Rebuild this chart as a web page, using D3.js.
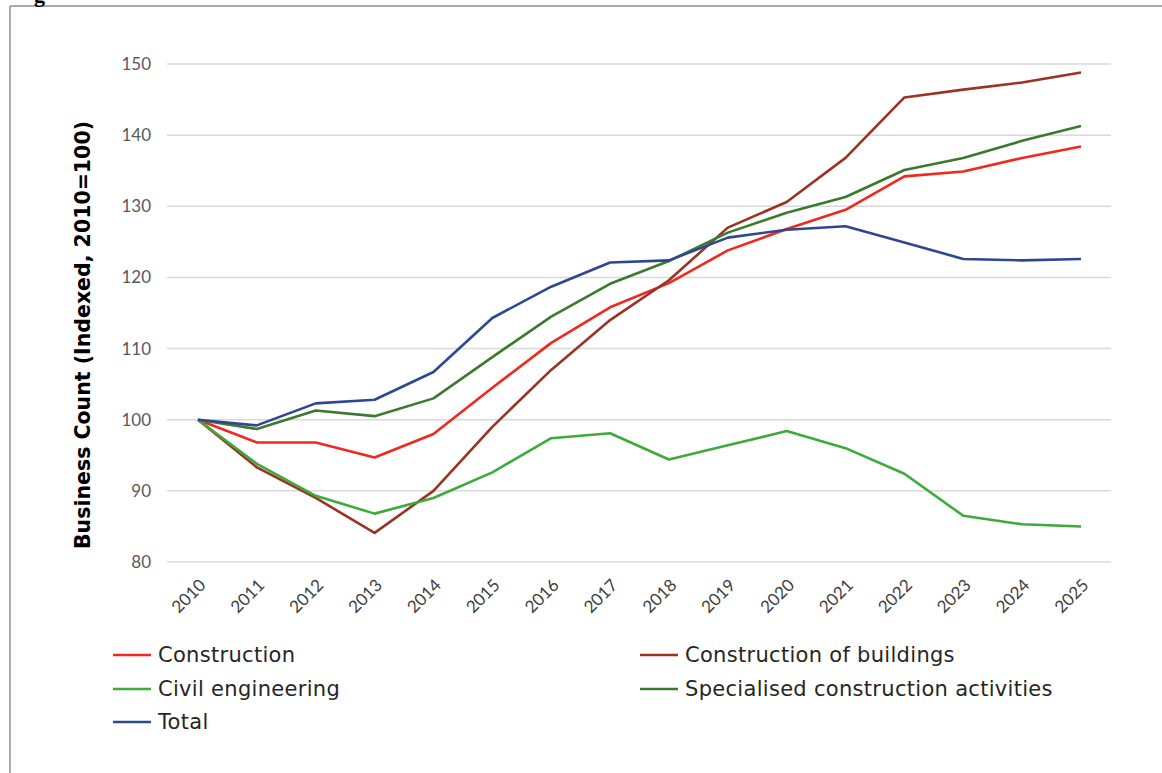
<!DOCTYPE html>
<html>
<head>
<meta charset="utf-8">
<script src="https://cdn.jsdelivr.net/npm/d3@7"></script>
<style>
  body { margin: 0; background: #fff; }
  svg { display: block; }
  .tick text { fill: #595959; }
</style>
</head>
<body>
<div id="chart"></div>
<script>
var svgWidth = 1162;
var svgHeight = 773;

var years = ["2010", "2011", "2012", "2013", "2014", "2015", "2016", "2017",
  "2018", "2019", "2020", "2021", "2022", "2023", "2024", "2025"];

var construction = [100, 96.8, 96.8, 94.7, 98.0, 104.5, 110.8, 115.8, 119.2, 123.8, 126.8, 129.5, 134.2, 134.9, 136.8, 138.4];
var buildings = [100, 93.3, 89.0, 84.1, 90.0, 99.0, 107.0, 114.0, 119.6, 127.0, 130.6, 136.8, 145.3, 146.4, 147.4, 148.8];
var civil = [100, 93.8, 89.3, 86.8, 89.0, 92.6, 97.4, 98.1, 94.4, 96.4, 98.4, 96.0, 92.4, 86.5, 85.3, 85.0];
var specialised = [100, 98.7, 101.3, 100.5, 103.0, 108.8, 114.5, 119.1, 122.3, 126.3, 129.1, 131.3, 135.1, 136.8, 139.2, 141.3];
var total = [100, 99.2, 102.3, 102.8, 106.7, 114.3, 118.7, 122.1, 122.4, 125.6, 126.7, 127.2, 124.9, 122.6, 122.4, 122.6];

var yTicks = [80, 90, 100, 110, 120, 130, 140, 150];

var series = [
  { name: "Construction", values: construction, color: "#f0281e" },
  { name: "Construction of buildings", values: buildings, color: "#9a3324" },
  { name: "Civil engineering", values: civil, color: "#3dab3a" },
  { name: "Specialised construction activities", values: specialised, color: "#3b7a2c" },
  { name: "Total", values: total, color: "#2e4790" }
];

var svg = d3.select("#chart")
  .append("svg")
  .attr("width", svgWidth)
  .attr("height", svgHeight);

// frame of the figure (top and left edges visible)
svg.append("line")
  .attr("x1", 10).attr("x2", svgWidth).attr("y1", 6).attr("y2", 6)
  .attr("stroke", "#ababab").attr("stroke-width", 2);
svg.append("line")
  .attr("x1", 10).attr("x2", 10).attr("y1", 6).attr("y2", svgHeight)
  .attr("stroke", "#ababab").attr("stroke-width", 2);

// cut-off heading above the frame
svg.append("text")
  .attr("x", 34).attr("y", 2)
  .style("font-family", "Liberation Serif")
  .style("font-weight", "bold")
  .style("font-size", "22px")
  .text("g");

var x = d3.scalePoint()
  .domain(years)
  .range([198, 1081]);

var y = d3.scaleLinear()
  .domain([80, 150])
  .range([562, 64]);

// gridlines
svg.append("g")
  .selectAll("line")
  .data(yTicks)
  .enter()
  .append("line")
  .attr("x1", 167)
  .attr("x2", 1111)
  .attr("y1", d => y(d))
  .attr("y2", d => y(d))
  .attr("stroke", "#d9d9d9")
  .attr("stroke-width", 1.5);

// y axis
var leftAxis = d3.axisLeft(y).tickValues(yTicks).tickSize(0).tickPadding(0);
var yAxis = svg.append("g")
  .attr("transform", "translate(151, 0)")
  .call(leftAxis);
yAxis.select(".domain").remove();
yAxis.selectAll("text")
  .style("font-family", "Lato")
  .style("font-size", "17px");

// x axis
var bottomAxis = d3.axisBottom(x).tickSize(0).tickPadding(0);
var xAxis = svg.append("g")
  .attr("transform", "translate(0, 576)")
  .call(bottomAxis);
xAxis.select(".domain").remove();
xAxis.selectAll("text")
  .style("font-family", "Lato")
  .style("font-size", "17px")
  .style("fill", "#404040")
  .attr("text-anchor", "end")
  .attr("dy", "0.35em")
  .attr("transform", "translate(4, 6) rotate(-45)");

// y axis title
svg.append("text")
  .attr("transform", "translate(90, 335) rotate(-90)")
  .attr("text-anchor", "middle")
  .style("font-family", "DejaVu Sans")
  .style("font-weight", "bold")
  .style("font-size", "20.5px")
  .style("fill", "#000")
  .text("Business Count (Indexed, 2010=100)");

// lines
var line = d3.line()
  .x((d, i) => x(years[i]))
  .y(d => y(d));

svg.append("g")
  .selectAll("path")
  .data(series)
  .enter()
  .append("path")
  .attr("d", d => line(d.values))
  .attr("fill", "none")
  .attr("stroke", d => d.color)
  .attr("stroke-width", 2.6)
  .attr("stroke-linejoin", "round");

// legend
var legendPos = [
  [113, 655], [640, 655],
  [113, 689], [640, 689],
  [113, 722]
];

var legend = svg.append("g")
  .selectAll("g")
  .data(series)
  .enter()
  .append("g")
  .attr("transform", (d, i) => `translate(${legendPos[i][0]}, ${legendPos[i][1]})`);

legend.append("line")
  .attr("x1", 0).attr("x2", 38)
  .attr("y1", 0).attr("y2", 0)
  .attr("stroke", d => d.color)
  .attr("stroke-width", 2.6);

legend.append("text")
  .attr("x", 45)
  .attr("dy", "0.35em")
  .style("font-family", "DejaVu Sans")
  .style("font-size", "21px")
  .style("letter-spacing", "0.3px")
  .style("fill", "#262626")
  .text(d => d.name);
</script>
</body>
</html>
